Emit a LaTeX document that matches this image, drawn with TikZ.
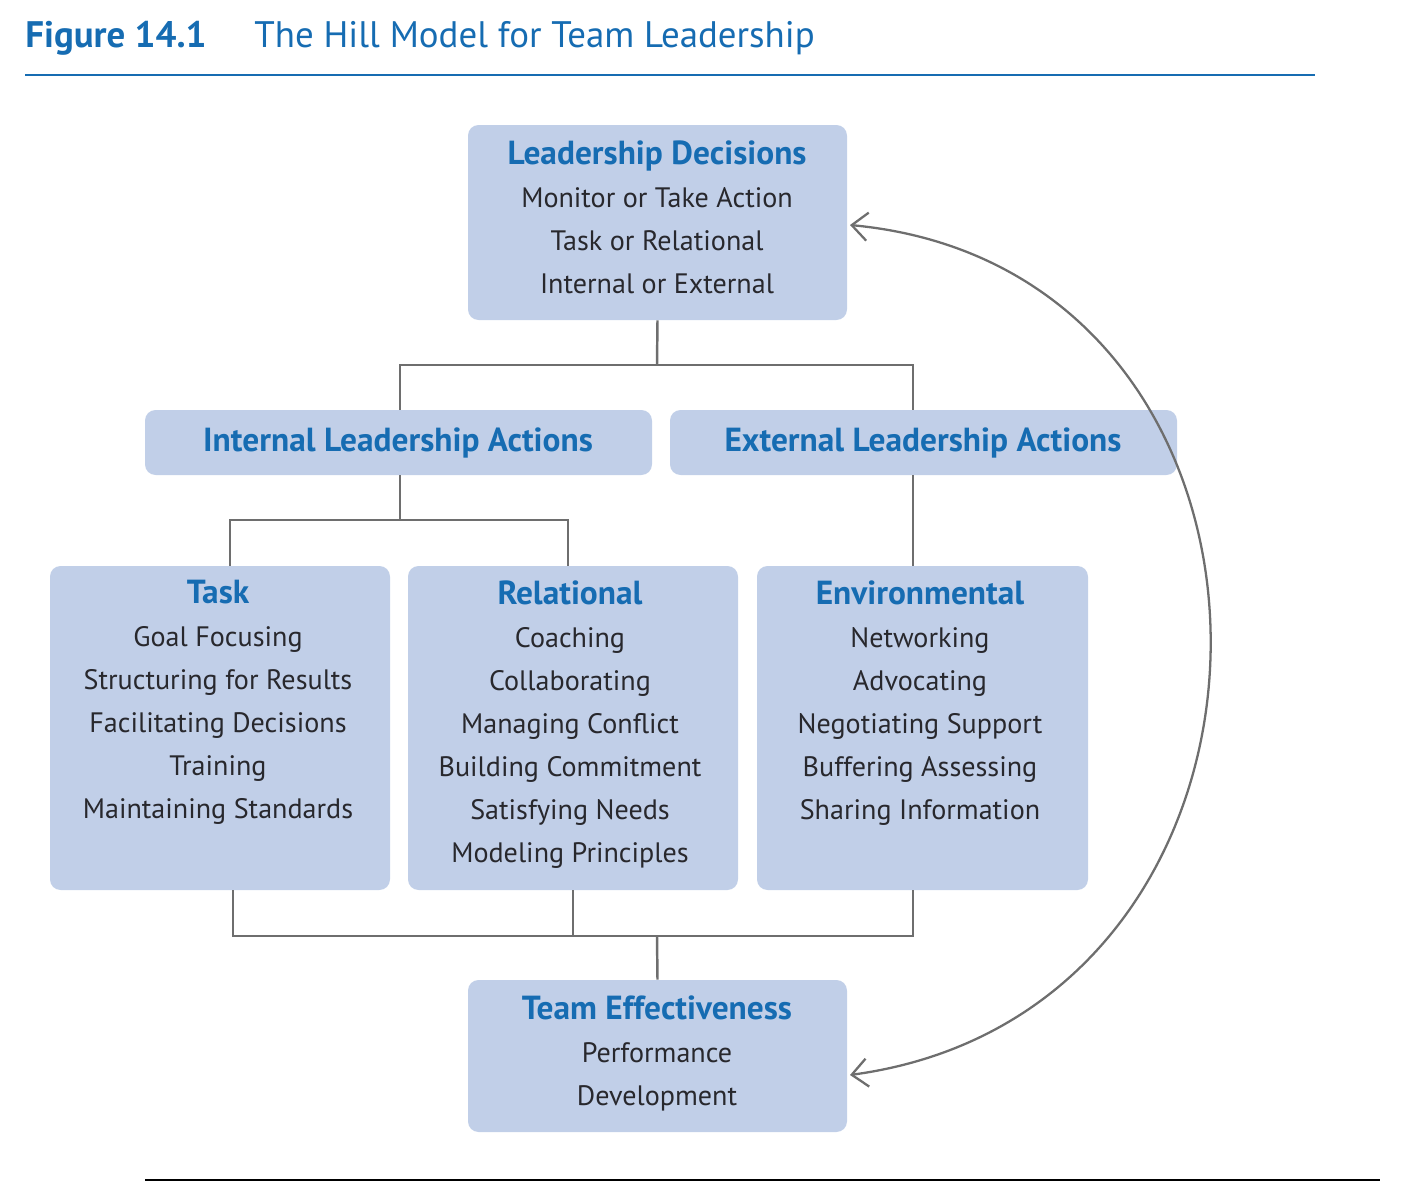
\documentclass[tikz,border=0pt]{standalone}
\usepackage{fontspec}
\setmainfont{PT Sans}
\usetikzlibrary{arrows.meta}
\definecolor{boxfill}{RGB}{193,207,232}
\definecolor{headblue}{RGB}{22,108,178}
\definecolor{bodytxt}{RGB}{40,40,45}
\definecolor{linegray}{RGB}{110,110,110}
\tikzset{
  x=0.02cm, y=-0.02cm,
  box/.style={fill=boxfill, rounded corners=6pt, draw=none, inner sep=0pt},
  txt/.style={anchor=north, align=center, font=\fontsize{16}{24.5}\selectfont, text=bodytxt, inner sep=0pt},
  conn/.style={draw=linegray, line width=1.4pt},
  hd/.style={text=headblue, font=\fontsize{19}{24.5}\selectfont\bfseries}
}
\newcommand{\hdr}[1]{{\fontsize{19}{24.5}\selectfont\bfseries\color{headblue}#1}}
\begin{document}
\begin{tikzpicture}
\useasboundingbox (0,0) rectangle (1421,1200);
% title
\node[anchor=west, inner sep=0pt, text=headblue, font=\fontsize{21}{24}\selectfont] (title) at (25,38) {\textbf{Figure 14.1}\hspace{1.3em}The Hill Model for Team Leadership};
\draw[headblue, line width=1.4pt] (25,75) -- (1315,75);
\draw[black, line width=1.4pt] (145,1180) -- (1380,1180);
% boxes
\path[box] (468,125) rectangle (847,320);
\node (ld) at (657.5,222.5) [minimum width=7.58cm, minimum height=3.9cm] {};
\path[box] (145,410) rectangle (652,475);
\node (ila) at (398.5,442.5) [minimum width=10.14cm, minimum height=1.3cm] {};
\path[box] (670,410) rectangle (1177,475);
\node (ela) at (923.5,442.5) [minimum width=10.14cm, minimum height=1.3cm] {};
\path[box] (50,566) rectangle (390,890);
\node (task) at (220,728) [minimum width=6.8cm, minimum height=6.48cm] {};
\path[box] (408,566) rectangle (738,890);
\node (rel) at (573,728) [minimum width=6.6cm, minimum height=6.48cm] {};
\path[box] (757,566) rectangle (1088,890);
\node (env) at (922.5,728) [minimum width=6.62cm, minimum height=6.48cm] {};
\path[box] (468,980) rectangle (847,1132);
\node (te) at (657.5,1056) [minimum width=7.58cm, minimum height=3.04cm] {};
% texts
\node[txt] (ldt) at (657,140) {\hdr{Leadership Decisions}\\Monitor or Take Action\\Task or Relational\\Internal or External};
\node[hd, inner sep=0pt] (ilat) at (398,443) {Internal Leadership Actions};
\node[hd, inner sep=0pt] (elat) at (923,443) {External Leadership Actions};
\node[txt] (taskt) at (218,580) {\hdr{Task}\\Goal Focusing\\Structuring for Results\\Facilitating Decisions\\Training\\Maintaining Standards};
\node[txt] (relt) at (570,580) {\hdr{Relational}\\Coaching\\Collaborating\\Managing Conflict\\Building Commitment\\Satisfying Needs\\Modeling Principles};
\node[txt] (envt) at (920,580) {\hdr{Environmental}\\Networking\\Advocating\\Negotiating Support\\Buffering Assessing\\Sharing Information};
\node[txt] (tet) at (657,995) {\hdr{Team Effectiveness}\\Performance\\Development};
% connectors
\coordinate (j1) at (657,365);
\coordinate (j2) at (400,520);
\coordinate (j3) at (657,936);
\draw[conn] (ld.south) -- (j1);
\draw[conn] (j1) -| (400,410);
\draw[conn] (j1) -| (913,410);
\draw[conn] (400,475) -- (j2);
\draw[conn] (j2) -| (230,566);
\draw[conn] (j2) -| (568,566);
\draw[conn] (913,475) -- (913,566);
\draw[conn] (233,890) |- (j3);
\draw[conn] (913,890) |- (j3);
\draw[conn] (573,890) -- (573,936);
\draw[conn] (j3) -- (te.north);
% feedback arc
\draw[draw=linegray, line width=1.3pt, {Straight Barb[length=9pt,width=16pt]}-{Straight Barb[length=9pt,width=16pt]}]
  (850,1075) .. controls (1330,1010) and (1330,270) .. (850,225);
\end{tikzpicture}
\end{document}
